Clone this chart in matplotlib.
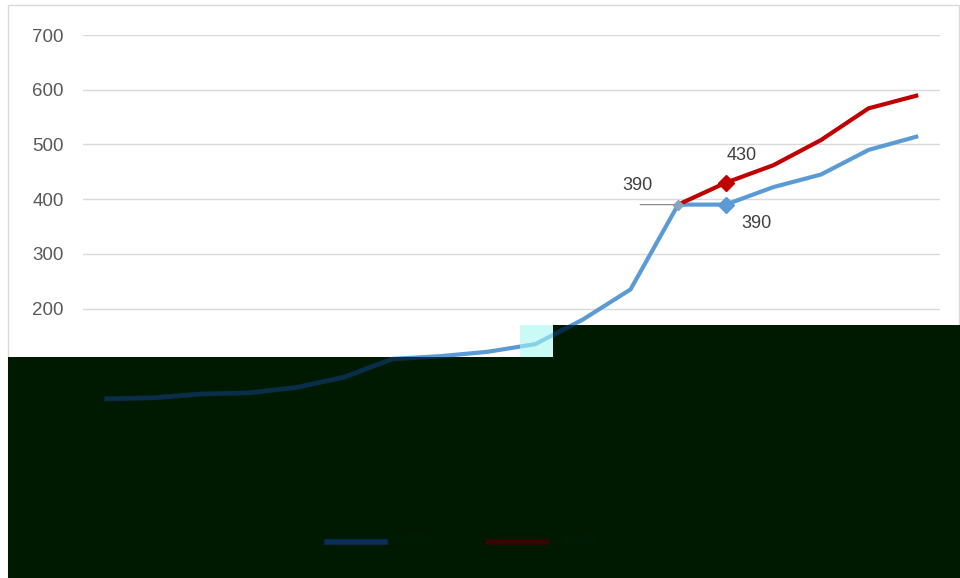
import matplotlib
matplotlib.use('Agg')
import matplotlib.pyplot as plt
from matplotlib.patches import Polygon, Rectangle
from matplotlib.lines import Line2D
import numpy as np

# ---- data ----
categories = ['2003', '2004', '2005', '2006', '2007', '2008', '2009', '2010', '2011',
              '2012', '2013', '2014', '2015', '2016', '2017', '2018', '2019', '2020']
actual = [35, 37, 44, 46, 56, 75, 108, 113, 121, 135, 180, 235, 390, 390, 422, 445, 490, 514]
forecast = [None] * 12 + [390, 430, 462, 508, 566, 589]
yticks = [0, 100, 200, 300, 400, 500, 600, 700]
series_names = ['实际', '预测']

BLUE = '#5B9BD5'
RED = '#C00000'
W, H = 960, 578
FONT = ['Liberation Sans', 'DejaVu Sans']
plt.rcParams['font.family'] = FONT


def fx(px):
    return px / W


def fy(py):
    return 1 - py / H


fig = plt.figure(figsize=(9.6, 5.78), dpi=100)
fig.patch.set_facecolor('white')

rect = [fx(83), fy(418), fx(940) - fx(83), fy(35) - fy(418)]
ax = fig.add_axes(rect)
x = np.arange(len(categories))
fc = np.array([np.nan if v is None else v for v in forecast], dtype=float)

ax.plot(x, actual, color=BLUE, lw=3.0, zorder=3, solid_joinstyle='round')
ax.plot(x, fc, color=RED, lw=3.0, zorder=4, solid_joinstyle='round')
# markers on the highlighted points
ax.plot([x[12]], [actual[12]], marker='D', ms=5, color='#8aa3bd', zorder=5)
ax.plot([x[13]], [actual[13]], marker='D', ms=8, color=BLUE, zorder=5)
ax.plot([x[13]], [fc[13]], marker='D', ms=8, color=RED, zorder=6)

# data labels
lab_kw = dict(textcoords='offset pixels', ha='center', va='center',
              fontsize=13, color='#404040')
ax.annotate(str(actual[12]), xy=(x[12], actual[12]), xytext=(-41, 19), **lab_kw)
ax.annotate('', xy=(x[12], actual[12]), xytext=(-38, 0), textcoords='offset pixels',
            arrowprops=dict(arrowstyle='-', color='#8c8c8c', lw=0.9, shrinkA=0, shrinkB=0))
ax.annotate(str(int(fc[13])), xy=(x[13], fc[13]), xytext=(16, 27), **lab_kw)
ax.annotate(str(actual[13]), xy=(x[13], actual[13]), xytext=(31, -19), **lab_kw)

ax.set_xlim(-0.5, len(categories) - 0.5)
ax.set_ylim(0, 700)
ax.set_yticks(yticks)
ax.set_xticks(x, categories)
ax.tick_params(axis='y', length=0, pad=14, labelsize=13.5, labelcolor='#595959')
ax.tick_params(axis='x', length=0, labelsize=11, labelcolor='#595959')
ax.yaxis.grid(True, color='#d9d9d9', lw=1)
ax.set_axisbelow(True)
for s in ax.spines.values():
    s.set_visible(False)

# chart border
fig.add_artist(Rectangle((fx(8), fy(577)), fx(959) - fx(8), fy(5) - fy(577),
                         transform=fig.transFigure, fill=False,
                         edgecolor='#d9d9d9', lw=1, zorder=1))

# dark overlay region seen in the reference
pts_px = [(8, 578), (8, 357), (553, 357), (553, 325), (960, 325), (960, 578)]
poly = Polygon([(fx(a), fy(b)) for a, b in pts_px], closed=True,
               transform=fig.transFigure, facecolor='#001a02',
               edgecolor='none', zorder=10)
fig.add_artist(poly)

# light cyan highlight box
fig.add_artist(Rectangle((fx(520), fy(357)), fx(553) - fx(520), fy(325) - fy(357),
                         transform=fig.transFigure, facecolor='#a6f7ef',
                         edgecolor='none', alpha=0.6, zorder=12))

# faint line visible through the dark overlay
ax2 = fig.add_axes(rect, zorder=20)
ax2.set_axis_off()
ax2.set_xlim(ax.get_xlim())
ax2.set_ylim(ax.get_ylim())
dim, = ax2.plot(x, actual, color='#0a3152', lw=3.4, alpha=0.9)
dim.set_clip_path(poly)

# legend (under the dark overlay, so drawn dim)
handles = [Line2D([], [], color=BLUE, lw=4), Line2D([], [], color=RED, lw=4)]
leg = fig.legend(handles, series_names, loc='center', bbox_to_anchor=(0.481, 0.0606),
                 ncol=2, frameon=False, handlelength=3.2, columnspacing=2.9,
                 prop={'family': ['Noto Sans CJK SC', 'DejaVu Sans'], 'size': 13})
leg.set_zorder(30)
dim_cols = ['#0a2f5a', '#3a0505']
for h, c in zip(leg.legend_handles, dim_cols):
    h.set_color(c)
for t in leg.get_texts():
    t.set_color('#595959')
    t.set_alpha(0.03)

fig.savefig('out.png', dpi=100)
